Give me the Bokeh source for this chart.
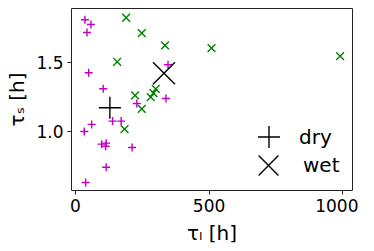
from bokeh.plotting import figure
from bokeh.embed import file_html
from bokeh.resources import INLINE
from bokeh.models import Range1d, FixedTicker, Legend, LegendItem, PrintfTickFormatter

# dry (tau_l, tau_s)
dry_tl = [35.4, 57.8, 42.9, 49.3, 103.7, 229.5, 338.8, 346.3, 138.8, 170.9, 60.4, 32.8, 97.8, 114.9, 112.7, 211.9, 114.9, 38.1]
dry_ts = [1.809, 1.775, 1.717, 1.425, 1.309, 1.203, 1.239, 1.483, 1.075, 1.075, 1.051, 1.0, 0.908, 0.915, 0.893, 0.884, 0.741, 0.630]
# wet
wet_tl = [189.6, 248.1, 335.1, 509.3, 156.0, 223.1, 248.1, 281.7, 291.8, 300.4, 183.6, 990.7]
wet_ts = [1.824, 1.712, 1.623, 1.604, 1.505, 1.261, 1.164, 1.249, 1.278, 1.309, 1.017, 1.546]
# means
dry_mean_tl, dry_mean_ts = [128.7], [1.172]
wet_mean_tl, wet_mean_ts = [331.3], [1.422]

x_ticks = [0, 500, 1000]
y_ticks = [1.0, 1.5]

p = figure(width=358, height=250, output_backend="svg", toolbar_location=None,
           x_range=Range1d(-15, 1037), y_range=Range1d(0.572, 1.891),
           min_border_left=71, min_border_right=6, min_border_top=8, min_border_bottom=60)
p.background_fill_color = "white"
p.border_fill_color = "white"
p.outline_line_color = "#222222"
p.outline_line_width = 1
p.grid.visible = False

p.scatter(dry_tl, dry_ts, marker="cross", size=8, line_color="#bf00bf", line_width=1.4)
p.scatter(wet_tl, wet_ts, marker="x", size=11, line_color="#008000", line_width=1.4)
r_dry = p.scatter(dry_mean_tl, dry_mean_ts, marker="cross", size=22, line_color="black", line_width=1.4)
r_wet = p.scatter(wet_mean_tl, wet_mean_ts, marker="x", size=31, line_color="black", line_width=1.4)

common = dict(background_fill_alpha=0, border_line_color=None,
              label_text_font="DejaVu Sans", label_text_font_size="20px",
              label_text_color="black", padding=0, margin=0, spacing=0)
leg_dry = Legend(items=[LegendItem(label="dry", renderers=[r_dry])], location=(170, 26),
                 glyph_width=55, glyph_height=55, label_height=20, label_standoff=3, **common)
leg_wet = Legend(items=[LegendItem(label="wet", renderers=[r_wet])], location=(162, -10),
                 glyph_width=70, glyph_height=70, label_height=20, label_standoff=0, **common)
p.add_layout(leg_dry)
p.add_layout(leg_wet)

for ax in (p.xaxis, p.yaxis):
    ax.axis_line_color = None
    ax.major_tick_line_color = "#222222"
    ax.major_tick_out = 4
    ax.major_tick_in = 0
    ax.minor_tick_line_color = None
    ax.major_label_text_font = "DejaVu Sans"
    ax.major_label_text_font_size = "17px"
    ax.major_label_text_color = "black"
    ax.axis_label_text_font = "DejaVu Sans"
    ax.axis_label_text_font_size = "20px"
    ax.axis_label_text_font_style = "normal"
    ax.axis_label_text_color = "black"

p.xaxis.ticker = FixedTicker(ticks=x_ticks)
p.yaxis.ticker = FixedTicker(ticks=y_ticks)
p.yaxis.formatter = PrintfTickFormatter(format="%.1f")
p.xaxis.axis_label = "τₗ [h]"
p.yaxis.axis_label = "τₛ [h]"
p.xaxis.major_label_standoff = 4
p.yaxis.major_label_standoff = 4
p.xaxis.axis_label_standoff = 6
p.yaxis.axis_label_standoff = 4

open("out.html", "w").write(file_html(p, INLINE))
